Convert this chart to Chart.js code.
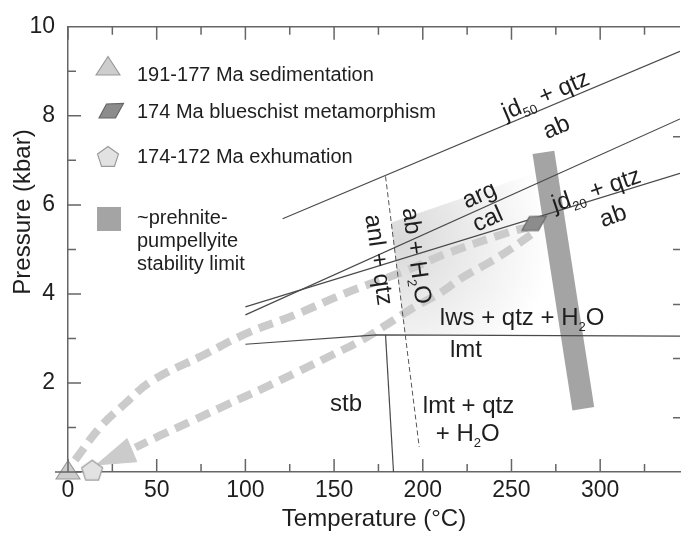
<!DOCTYPE html>
<html lang="en">
<head>
<meta charset="UTF-8">
<title>P-T path</title>
<script src="https://cdn.jsdelivr.net/npm/chart.js"></script>
<style>
  html, body { margin: 0; padding: 0; background: #fff; }
</style>
</head>
<body>
<canvas id="pt" width="693" height="534"></canvas>
<script>
// ---- data (T in °C, P in kbar) ----
const jd50T = [121, 345];
const jd50P = [5.69, 9.45];
const argCalT = [100, 345];
const argCalP = [3.53, 7.93];
const jd20T = [100, 345];
const jd20P = [3.71, 6.71];
const anlT = [179, 198];
const anlP = [6.64, 0.56];
const lwsT = [100, 174, 345];
const lwsP = [2.87, 3.08, 3.05];
const stbT = [179, 183.5];
const stbP = [3.08, 0];

// ~prehnite-pumpellyite stability limit
const ppT = [268, 290.5];
const ppP = [7.18, 1.42];

// P-T path
const progradeT = [4, 18, 32, 47, 77, 101, 128, 156, 191, 213, 248, 259];
const progradeP = [0.27, 1.0, 1.53, 2.04, 2.64, 3.12, 3.53, 4.01, 4.53, 4.9, 5.38, 5.49];
const exhumT = [261, 250, 238, 222, 210, 193, 178, 165, 150, 130, 110, 90, 70, 52, 38];
const exhumP = [5.33, 5.02, 4.72, 4.36, 4.03, 3.65, 3.27, 2.95, 2.65, 2.26, 1.88, 1.52, 1.15, 0.82, 0.55];
const arrowT = [15.9, 33.3, 38.8, 15.9];
const arrowP = [0.16, 0.75, 0.23, 0.16];

// shaded field
const shadeT = [182, 262, 279, 190, 182];
const shadeP = [5.6, 6.7, 3.07, 3.07, 5.6];

// samples
const sedT = [0], sedP = [0];
const bsT = [262.6], bsP = [5.58];
const exT = [13.6], exP = [0.03];

// ticks
const xMajor = [0, 50, 100, 150, 200, 250, 300];
const xMinor = [25, 75, 125, 175, 225, 275, 325];
const yMajor = [0, 2, 4, 6, 8, 10];
const yMinor = [1, 3, 5, 7, 9];
const rightTickP = [1.22, 2.55, 3.76, 5.0, 7.53];

const FONT = '"Liberation Sans", Arial, Helvetica, sans-serif';
const INK = '#1e1e1e';
const AXIS = '#666';
Chart.defaults.font.family = FONT;
Chart.defaults.color = INK;

const pts = (T, P) => T.map((t, i) => ({ x: t, y: P[i] }));

function shape(w, h, draw) {
  const c = document.createElement('canvas');
  c.width = w; c.height = h;
  draw(c.getContext('2d'));
  return c;
}
function poly(g, v, fill, stroke) {
  g.beginPath();
  v.forEach((p, i) => i ? g.lineTo(p[0], p[1]) : g.moveTo(p[0], p[1]));
  g.closePath();
  g.fillStyle = fill; g.fill();
  g.strokeStyle = stroke; g.lineWidth = 1.2; g.stroke();
}
const triImg = shape(26, 26, g => poly(g, [[13, 1.5], [25, 20], [1, 20]], '#cdcdcd', '#9a9a9a'));
const parImg = shape(28, 18, g => poly(g, [[2, 16], [9.5, 2], [26.5, 1.5], [18.5, 16]], '#8c8c8c', '#666'));
const pentImg = shape(26, 26, g => {
  const v = [];
  for (let k = 0; k < 5; k++) {
    const a = -Math.PI / 2 + k * 2 * Math.PI / 5;
    v.push([13 + 11 * Math.cos(a), 13.5 + 11 * Math.sin(a)]);
  }
  poly(g, v, '#e2e2e2', '#9a9a9a');
});

const line = (T, P, extra) => Object.assign({
  data: pts(T, P), showLine: true, pointRadius: 0, borderColor: '#4a4a4a',
  borderWidth: 1.2, fill: false, tension: 0, order: 3
}, extra);

const pathStyle = { borderColor: '#cbcbcb', borderWidth: 8, borderDash: [15, 8], tension: 0.4, order: 4, borderCapStyle: 'butt' };

const marker = (T, P, img) => ({
  data: pts(T, P), showLine: false, pointStyle: img, pointRadius: 12, pointHoverRadius: 12,
  clip: false, order: 0
});

// text inside the plot: position in data units, rotation in degrees
const notes = [
  { text: 'jd_50 + qtz', t: 269, p: 8.49, rot: -23 },
  { text: 'ab', t: 275, p: 7.77, rot: -23 },
  { text: 'arg', t: 231.6, p: 6.25, rot: -24 },
  { text: 'cal', t: 236.3, p: 5.71, rot: -24 },
  { text: 'jd_20 + qtz', t: 297.6, p: 6.36, rot: -19 },
  { text: 'ab', t: 307, p: 5.78, rot: -19 },
  { text: 'anl + qtz', t: 176, p: 4.77, rot: 82 },
  { text: 'ab + H_2O', t: 197.2, p: 4.86, rot: 82 },
  { text: 'lws + qtz + H_2O', t: 256, p: 3.49, rot: 0 },
  { text: 'lmt', t: 224.3, p: 2.77, rot: 0 },
  { text: 'stb', t: 156.7, p: 1.56, rot: 0 },
  { text: 'lmt + qtz', t: 225.8, p: 1.51, rot: 0 },
  { text: '+ H_2O', t: 225.3, p: 0.88, rot: 0 }
];

function richText(ctx, str, x, y, size, rot) {
  const parts = str.split(/_(\d+)/);
  const sub = Math.round(size * 0.55);
  ctx.save();
  ctx.translate(x, y);
  ctx.rotate(rot * Math.PI / 180);
  let w = 0;
  parts.forEach((s, i) => { ctx.font = (i % 2 ? sub : size) + 'px ' + FONT; w += ctx.measureText(s).width; });
  let cx = -w / 2;
  ctx.textAlign = 'left';
  ctx.textBaseline = 'alphabetic';
  ctx.fillStyle = INK;
  parts.forEach((s, i) => {
    ctx.font = (i % 2 ? sub : size) + 'px ' + FONT;
    ctx.fillText(s, cx, size * 0.36 + (i % 2 ? size * 0.22 : 0));
    cx += ctx.measureText(s).width;
  });
  ctx.restore();
}

const notesPlugin = {
  id: 'notes',
  afterDatasetsDraw(chart) {
    const { ctx, scales: { x, y } } = chart;
    notes.forEach(n => richText(ctx, n.text, x.getPixelForValue(n.t), y.getPixelForValue(n.p), 24, n.rot));

    // legend
    ctx.save();
    ctx.drawImage(triImg, 95, 55);
    ctx.drawImage(parImg, 97, 102);
    ctx.drawImage(pentImg, 95, 144);
    ctx.fillStyle = '#a4a4a4';
    ctx.fillRect(97, 207, 24, 24);
    ctx.fillStyle = INK;
    ctx.font = '20px ' + FONT;
    ctx.textBaseline = 'middle';
    ctx.textAlign = 'left';
    ctx.fillText('191-177 Ma sedimentation', 137, 75);
    ctx.fillText('174 Ma blueschist metamorphism', 137, 112);
    ctx.fillText('174-172 Ma exhumation', 137, 157);
    ctx.fillText('~prehnite-', 137, 218);
    ctx.fillText('pumpellyite', 137, 241);
    ctx.fillText('stability limit', 137, 264);

    // y title
    ctx.translate(23, 212);
    ctx.rotate(-Math.PI / 2);
    ctx.textAlign = 'center';
    ctx.font = '24px ' + FONT;
    ctx.fillText('Pressure (kbar)', 0, 0);
    ctx.restore();
  }
};

const axisPlugin = {
  id: 'axisTicks',
  afterDraw(chart) {
    const { ctx, chartArea: a, scales: { x, y } } = chart;
    ctx.save();
    ctx.strokeStyle = AXIS;
    ctx.lineWidth = 1.5;
    ctx.beginPath();
    ctx.moveTo(a.left, a.top); ctx.lineTo(a.right, a.top);
    ctx.moveTo(a.left - 13, a.bottom); ctx.lineTo(a.left, a.bottom);
    const xt = (v, len) => {
      const px = x.getPixelForValue(v);
      ctx.moveTo(px, a.bottom); ctx.lineTo(px, a.bottom - len);
      ctx.moveTo(px, a.top); ctx.lineTo(px, a.top + len);
    };
    xMajor.forEach(v => xt(v, 13));
    xMinor.forEach(v => xt(v, 8));
    yMajor.forEach(v => { const py = y.getPixelForValue(v); ctx.moveTo(a.left, py); ctx.lineTo(a.left + 13, py); });
    yMinor.forEach(v => { const py = y.getPixelForValue(v); ctx.moveTo(a.left, py); ctx.lineTo(a.left + 8, py); });
    rightTickP.forEach(v => { const py = y.getPixelForValue(v); ctx.moveTo(a.right - 7, py); ctx.lineTo(a.right, py); });
    ctx.stroke();
    ctx.restore();
  }
};

new Chart(document.getElementById('pt'), {
  type: 'scatter',
  data: {
    datasets: [
      marker(sedT, sedP, triImg),
      marker(exT, exP, pentImg),
      marker(bsT, bsP, parImg),
      line(jd50T, jd50P),
      line(argCalT, argCalP),
      line(jd20T, jd20P),
      line(lwsT, lwsP),
      line(stbT, stbP),
      line(anlT, anlP, { borderDash: [5, 3], borderWidth: 1, borderColor: '#555' }),
      line(progradeT, progradeP, pathStyle),
      line(exhumT, exhumP, pathStyle),
      line(arrowT, arrowP, { fill: 'shape', backgroundColor: '#cbcbcb', borderColor: '#cbcbcb', borderWidth: 1, order: 4 }),
      line(ppT, ppP, { borderColor: '#a4a4a4', borderWidth: 22, borderCapStyle: 'butt', order: 5 }),
      line(shadeT, shadeP, {
        fill: 'shape', borderWidth: 0, borderColor: 'rgba(0,0,0,0)', order: 6,
        backgroundColor: c => {
          const ch = c.chart;
          if (!ch.chartArea) return '#eeeeee';
          const sx = ch.scales.x, sy = ch.scales.y;
          const g = ch.ctx.createRadialGradient(
            sx.getPixelForValue(188), sy.getPixelForValue(5.2), 0,
            sx.getPixelForValue(188), sy.getPixelForValue(5.2), 150);
          g.addColorStop(0, '#d9d9d9');
          g.addColorStop(0.45, '#ebebeb');
          g.addColorStop(1, '#ffffff');
          return g;
        }
      })
    ]
  },
  options: {
    responsive: false,
    animation: false,
    events: [],
    layout: { padding: { top: 21, right: 0, bottom: 0, left: 0 } },
    plugins: { legend: { display: false }, tooltip: { enabled: false } },
    scales: {
      x: {
        type: 'linear', min: 0, max: 345,
        grid: { display: false, drawTicks: false },
        border: { display: true, color: AXIS, width: 1.5 },
        ticks: { font: { size: 23 }, color: INK, padding: 5, includeBounds: false },
        afterBuildTicks: s => { s.ticks = xMajor.map(v => ({ value: v })); },
        afterFit: s => { s.height = 62; },
        title: { display: true, text: 'Temperature (°C)', font: { size: 24 }, color: INK, padding: { top: 0, bottom: 0 } }
      },
      y: {
        type: 'linear', min: 0, max: 10,
        grid: { display: false, drawTicks: false },
        border: { display: true, color: AXIS, width: 1.5 },
        ticks: { font: { size: 23 }, color: INK, padding: 13, callback: v => v === 0 ? '' : v },
        afterBuildTicks: s => { s.ticks = yMajor.map(v => ({ value: v })); },
        afterFit: s => { s.width = 68; }
      }
    }
  },
  plugins: [notesPlugin, axisPlugin]
});
</script>
</body>
</html>
